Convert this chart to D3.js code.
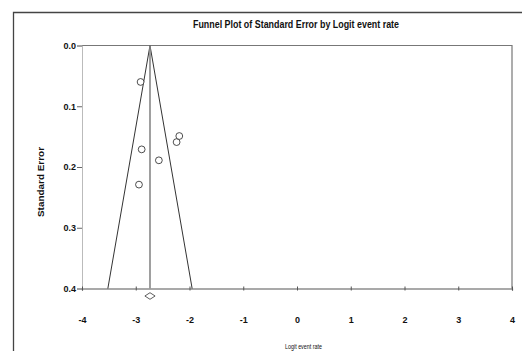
<!DOCTYPE html>
<html>
<head>
<meta charset="utf-8">
<script src="https://cdn.jsdelivr.net/npm/d3@7"></script>
<style>
  body { margin: 0; background: #fff; }
  svg { display: block; }
  .tick text { font-family: "Liberation Sans Narrow", "Liberation Sans", Arial, sans-serif; font-weight: bold; font-size: 9px; fill: #111; }
</style>
</head>
<body>
<div id="chart"></div>
<script>
// study values
var logitRate = [-2.91, -2.89, -2.57, -2.94, -2.24, -2.19];
var stdError  = [0.060, 0.171, 0.189, 0.229, 0.159, 0.149];

var pooled = -2.735;          // combined logit event rate
var pooledCI = [-2.83, -2.64];
var funnelZ = 1.96;

var xTicks = [-4, -3, -2, -1, 0, 1, 2, 3, 4];
var yTicks = [0.0, 0.1, 0.2, 0.3, 0.4];

var width = 522, height = 351;

var svg = d3.select('#chart').append('svg')
  .attr('width', width)
  .attr('height', height);

// outer frame
svg.append('path')
  .attr('d', 'M13.5,351 V12.5 H522')
  .attr('fill', 'none')
  .attr('stroke', '#444')
  .attr('stroke-width', 1.3);

var x = d3.scaleLinear().domain([-4, 4]).range([82, 512]);
var y = d3.scaleLinear().domain([0, 0.4]).range([45.5, 288.5]);

// plot box (top + right)
svg.append('path')
  .attr('d', 'M' + x(-4) + ',' + y(0) + ' H' + x(4) + ' V' + y(0.4))
  .attr('fill', 'none')
  .attr('stroke', '#777')
  .attr('stroke-width', 1.2);

// y axis
var yAxis = svg.append('g')
  .attr('transform', 'translate(' + x(-4) + ',0)')
  .call(d3.axisLeft(y).tickValues(yTicks).tickFormat(d3.format('.1f')).tickSize(5).tickPadding(1));
yAxis.select('.domain').attr('stroke', '#bbb');
yAxis.selectAll('.tick line').attr('stroke', '#666');

// x axis
var xAxis = svg.append('g')
  .attr('transform', 'translate(0,' + y(0.4) + ')')
  .call(d3.axisBottom(x).tickValues(xTicks).tickFormat(d3.format('d')).tickSize(2).tickPadding(26));
xAxis.select('.domain').attr('stroke', '#555').attr('stroke-width', 1.2);
xAxis.selectAll('.tick line').attr('y1', -2).attr('stroke', '#555');
xAxis.selectAll('.tick text').text(function(d) { return d < 0 ? '-' + Math.abs(d) : d; });

// funnel
var se0 = yTicks[0], se1 = yTicks[yTicks.length - 1];
svg.append('path')
  .attr('d', d3.line()([
    [x(pooled - funnelZ * se1), y(se1)],
    [x(pooled), y(se0)],
    [x(pooled + funnelZ * se1), y(se1)]
  ]))
  .attr('fill', 'none')
  .attr('stroke', '#333')
  .attr('stroke-width', 1);

// pooled estimate line
svg.append('line')
  .attr('x1', x(pooled)).attr('x2', x(pooled))
  .attr('y1', y(se0)).attr('y2', y(se1))
  .attr('stroke', '#888')
  .attr('stroke-width', 1.6);

// diamond
var dy = y(se1) + 7.5;
svg.append('path')
  .attr('d', d3.line()([
    [x(pooledCI[0]), dy], [x(pooled), dy - 3.3],
    [x(pooledCI[1]), dy], [x(pooled), dy + 3.3]
  ]) + 'Z')
  .attr('fill', '#fff')
  .attr('stroke', '#333')
  .attr('stroke-width', 0.8);

// studies
svg.selectAll('circle.study')
  .data(logitRate)
  .enter().append('circle')
  .attr('class', 'study')
  .attr('cx', function(d) { return x(d); })
  .attr('cy', function(d, i) { return y(stdError[i]); })
  .attr('r', 3.4)
  .attr('fill', '#fff')
  .attr('stroke', '#222')
  .attr('stroke-width', 0.8);

// titles
svg.append('text')
  .attr('x', 296).attr('y', 28)
  .attr('text-anchor', 'middle')
  .attr('textLength', 206)
  .attr('lengthAdjust', 'spacingAndGlyphs')
  .style('font-family', '"Liberation Sans Narrow", "Liberation Sans", Arial, sans-serif')
  .style('font-weight', 'bold')
  .style('font-size', '11px')
  .style('fill', '#111')
  .text('Funnel Plot of Standard Error by Logit event rate');

svg.append('text')
  .attr('transform', 'translate(44,182) rotate(-90)')
  .attr('text-anchor', 'middle')
  .attr('textLength', 70)
  .attr('lengthAdjust', 'spacingAndGlyphs')
  .style('font-family', '"Liberation Sans", Arial, sans-serif')
  .style('font-weight', 'bold')
  .style('font-size', '9px')
  .style('fill', '#111')
  .text('Standard Error');

svg.append('text')
  .attr('x', 303.5).attr('y', 349)
  .attr('text-anchor', 'middle')
  .attr('textLength', 37)
  .attr('lengthAdjust', 'spacingAndGlyphs')
  .style('font-family', '"Liberation Sans Narrow", "Liberation Sans", Arial, sans-serif')
  .style('font-size', '8px')
  .style('fill', '#111')
  .text('Logit event rate');
</script>
</body>
</html>
